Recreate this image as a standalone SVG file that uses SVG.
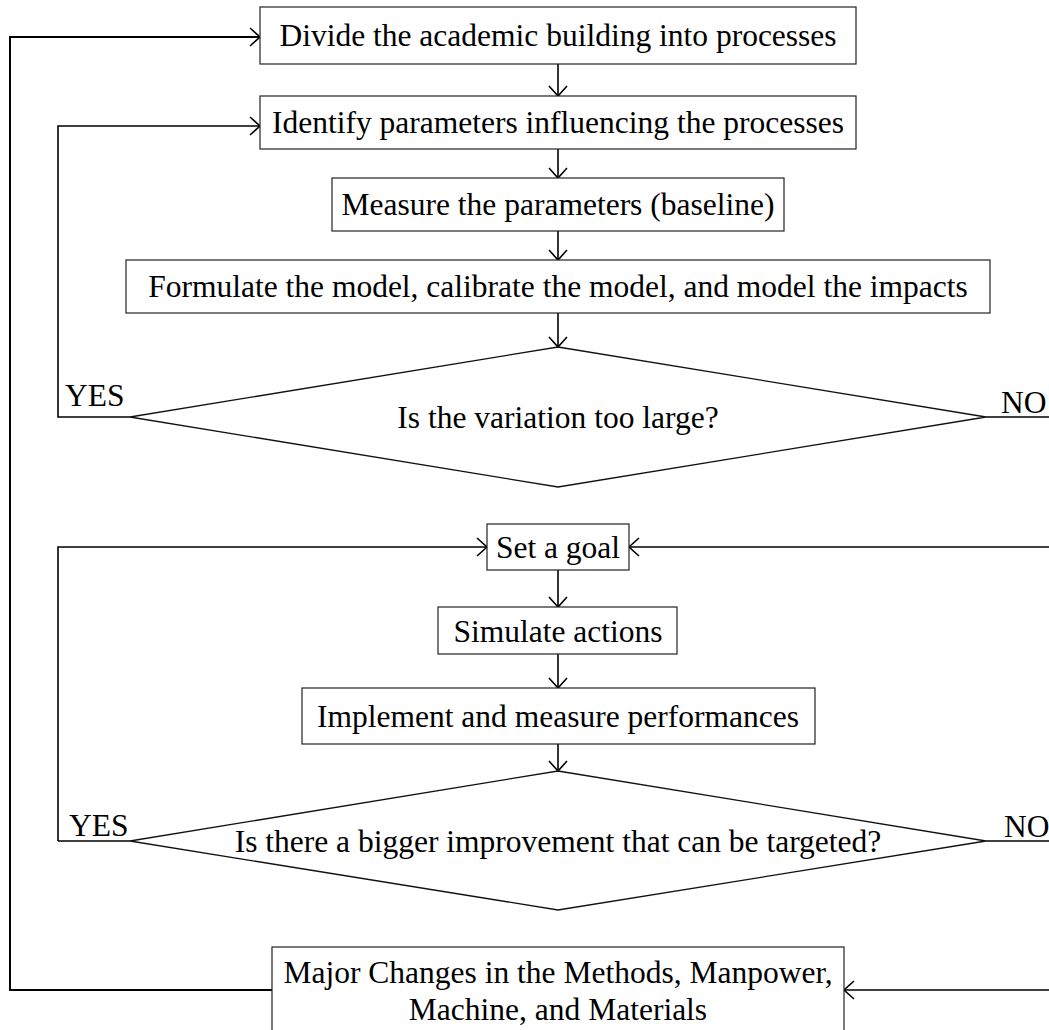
<svg xmlns="http://www.w3.org/2000/svg" width="1049" height="1030" viewBox="0 0 1049 1030">
<style>
.box{fill:#fff;stroke:#222;stroke-width:1.2}
.dia{fill:#fff;stroke:#111;stroke-width:1.3}
.t{font-family:"Liberation Serif","Times New Roman",serif;font-size:31.5px;fill:#000;text-anchor:middle}
.lbl{font-family:"Liberation Serif","Times New Roman",serif;font-size:31.5px;fill:#000}
.c{fill:none;stroke:#000;stroke-width:1.6}
.cw{fill:none;stroke:#000;stroke-width:2}
</style>
<defs>
<marker id="arr" markerUnits="userSpaceOnUse" markerWidth="14" markerHeight="22" viewBox="0 -11 14 22" refX="11" refY="0" orient="auto">
<path d="M1,-9 L11,0 L1,9" fill="none" stroke="#000" stroke-width="1.6"/>
</marker>
</defs>
<rect width="1049" height="1030" fill="#fff"/>
<g id="connectors">
<line class="c" x1="558" y1="64" x2="558" y2="96" marker-end="url(#arr)"/>
<line class="c" x1="558" y1="149" x2="558" y2="178" marker-end="url(#arr)"/>
<line class="c" x1="558" y1="231" x2="558" y2="260" marker-end="url(#arr)"/>
<line class="c" x1="558" y1="313" x2="558" y2="347" marker-end="url(#arr)"/>
<polyline class="c" points="130,417 58,417 58,126 260,126" marker-end="url(#arr)"/>
<line class="c" x1="986" y1="417" x2="1049" y2="417"/>
<polyline class="c" points="58,841 58,547 487,547" marker-end="url(#arr)"/>
<line class="c" x1="130" y1="841" x2="58" y2="841"/>
<line class="c" x1="1049" y1="547" x2="629" y2="547" marker-end="url(#arr)"/>
<line class="c" x1="558" y1="570" x2="558" y2="607" marker-end="url(#arr)"/>
<line class="c" x1="558" y1="654" x2="558" y2="688" marker-end="url(#arr)"/>
<line class="c" x1="558" y1="744" x2="558" y2="771" marker-end="url(#arr)"/>
<line class="c" x1="986" y1="841" x2="1049" y2="841"/>
<line class="c" x1="1049" y1="990" x2="844" y2="990" marker-end="url(#arr)"/>
<polyline class="cw" points="272,990 10,990 10,37 260,37" marker-end="url(#arr)"/>
</g>
<g id="n1"><rect class="box" x="260" y="7" width="596" height="57"/><text class="t" x="558" y="46">Divide the academic building into processes</text></g>
<g id="n2"><rect class="box" x="260" y="96" width="596" height="53"/><text class="t" x="558" y="133">Identify parameters influencing the processes</text></g>
<g id="n3"><rect class="box" x="332" y="178" width="452" height="53"/><text class="t" x="558" y="215">Measure the parameters (baseline)</text></g>
<g id="n4"><rect class="box" x="126" y="260" width="864" height="53"/><text class="t" x="558" y="297">Formulate the model, calibrate the model, and model the impacts</text></g>
<g id="d1"><polygon class="dia" points="558,347 986,417 558,487 130,417"/><text class="t" x="558" y="428">Is the variation too large?</text>
<text class="lbl" x="65" y="406">YES</text><text class="lbl" x="1001" y="413">NO</text></g>
<g id="n5"><rect class="box" x="487" y="524" width="142" height="46"/><text class="t" x="558" y="558">Set a goal</text></g>
<g id="n6"><rect class="box" x="438" y="607" width="239" height="47"/><text class="t" x="558" y="642">Simulate actions</text></g>
<g id="n7"><rect class="box" x="302" y="688" width="513" height="56"/><text class="t" x="558" y="727">Implement and measure performances</text></g>
<g id="d2"><polygon class="dia" points="558,771 986,841 558,910 130,841"/><text class="t" x="558" y="852">Is there a bigger improvement that can be targeted?</text>
<text class="lbl" x="69" y="836">YES</text><text class="lbl" x="1004" y="837">NO</text></g>
<g id="n8"><rect class="box" x="272" y="947" width="572" height="100"/><text class="t" x="558" y="983">Major Changes in the Methods, Manpower,</text><text class="t" x="558" y="1020">Machine, and Materials</text></g>
</svg>
